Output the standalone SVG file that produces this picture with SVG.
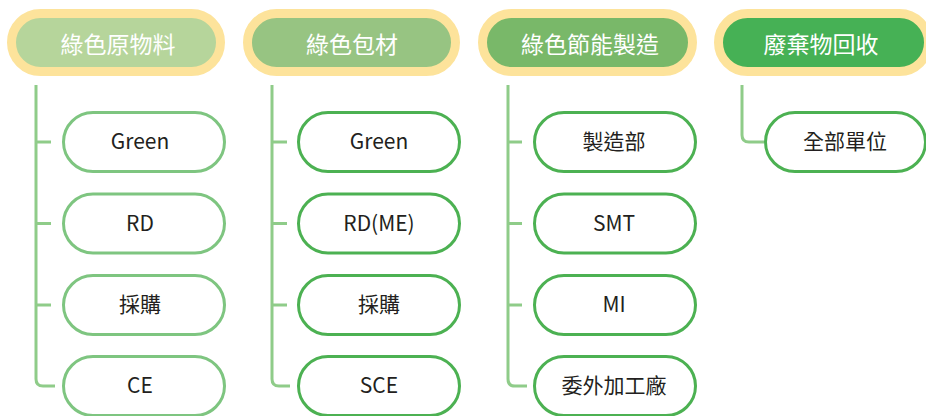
<svg xmlns="http://www.w3.org/2000/svg" width="926" height="416" viewBox="0 0 926 416">
  <style>
    .hdr { stroke: #fde39b; stroke-width: 9; }
    .htxt { font-family: "Noto Sans CJK TC", "Noto Sans", sans-serif; font-size: 23px; fill: #ffffff; text-anchor: middle; dominant-baseline: central; }
    .child { fill: #ffffff; stroke-width: 3; }
    .c1 { stroke: #7ec580; }
    .c2 { stroke: #4cb152; }
    .ctxt { font-family: "Noto Sans CJK TC", "Noto Sans", sans-serif; font-size: 21px; fill: #231f20; text-anchor: middle; dominant-baseline: central; }
    .conn { fill: none; stroke: #8fcc89; stroke-width: 3; stroke-linecap: butt; }
  </style>
  <rect width="926" height="416" fill="#ffffff"/>

  <g id="connectors">
    <path class="conn" d="M36,85 V379 Q36,386 43,386 H55"/>
    <path class="conn" d="M36,142 H51 M36,223.5 H51 M36,305 H51"/>
    <path class="conn" d="M272,85 V379 Q272,386 279,386 H290"/>
    <path class="conn" d="M272,142 H287 M272,223.5 H287 M272,305 H287"/>
    <path class="conn" d="M508,85 V379 Q508,386 515,386 H527"/>
    <path class="conn" d="M508,142 H522 M508,223.5 H522 M508,305 H522"/>
    <path class="conn" d="M742,85 V135 Q742,142 749,142 H764"/>
  </g>

  <g id="h1">
    <rect class="hdr" x="11.5" y="13.5" width="209" height="58" rx="29" fill="#b6d59b"/>
    <text class="htxt" x="118" y="42.5">綠色原物料</text>
  </g>
  <g id="h2">
    <rect class="hdr" x="247.5" y="13.5" width="208" height="58" rx="29" fill="#97c482"/>
    <text class="htxt" x="352" y="42.5">綠色包材</text>
  </g>
  <g id="h3">
    <rect class="hdr" x="482.5" y="13.5" width="210" height="58" rx="29" fill="#79b869"/>
    <text class="htxt" x="590" y="42.5">綠色節能製造</text>
  </g>
  <g id="h4">
    <rect class="hdr" x="718.5" y="13.5" width="210" height="58" rx="29" fill="#46b155"/>
    <text class="htxt" x="821" y="42.5">廢棄物回收</text>
  </g>

  <g id="n1a"><rect class="child c1" x="63.5" y="112.5" width="161" height="59" rx="29.5"/><text class="ctxt" x="140" y="140">Green</text></g>
  <g id="n1b"><rect class="child c1" x="63.5" y="194" width="161" height="59" rx="29.5"/><text class="ctxt" x="140" y="222">RD</text></g>
  <g id="n1c"><rect class="child c1" x="63.5" y="275.5" width="161" height="59" rx="29.5"/><text class="ctxt" x="140" y="303">採購</text></g>
  <g id="n1d"><rect class="child c1" x="63.5" y="356.5" width="161" height="59" rx="29.5"/><text class="ctxt" x="140" y="384">CE</text></g>

  <g id="n2a"><rect class="child c2" x="298.5" y="112.5" width="161" height="59" rx="29.5"/><text class="ctxt" x="379" y="140">Green</text></g>
  <g id="n2b"><rect class="child c2" x="298.5" y="194" width="161" height="59" rx="29.5"/><text class="ctxt" x="379" y="222">RD(ME)</text></g>
  <g id="n2c"><rect class="child c2" x="298.5" y="275.5" width="161" height="59" rx="29.5"/><text class="ctxt" x="379" y="303">採購</text></g>
  <g id="n2d"><rect class="child c2" x="298.5" y="356.5" width="161" height="59" rx="29.5"/><text class="ctxt" x="379" y="384">SCE</text></g>

  <g id="n3a"><rect class="child c2" x="534.5" y="112.5" width="161" height="59" rx="29.5"/><text class="ctxt" x="614" y="140">製造部</text></g>
  <g id="n3b"><rect class="child c2" x="534.5" y="194" width="161" height="59" rx="29.5"/><text class="ctxt" x="614" y="222">SMT</text></g>
  <g id="n3c"><rect class="child c2" x="534.5" y="275.5" width="161" height="59" rx="29.5"/><text class="ctxt" x="614" y="303">MI</text></g>
  <g id="n3d"><rect class="child c2" x="534.5" y="356.5" width="161" height="59" rx="29.5"/><text class="ctxt" x="614" y="384">委外加工廠</text></g>

  <g id="n4a"><rect class="child c2" x="765.5" y="112.5" width="160" height="59" rx="29.5"/><text class="ctxt" x="845" y="140">全部單位</text></g>
</svg>
